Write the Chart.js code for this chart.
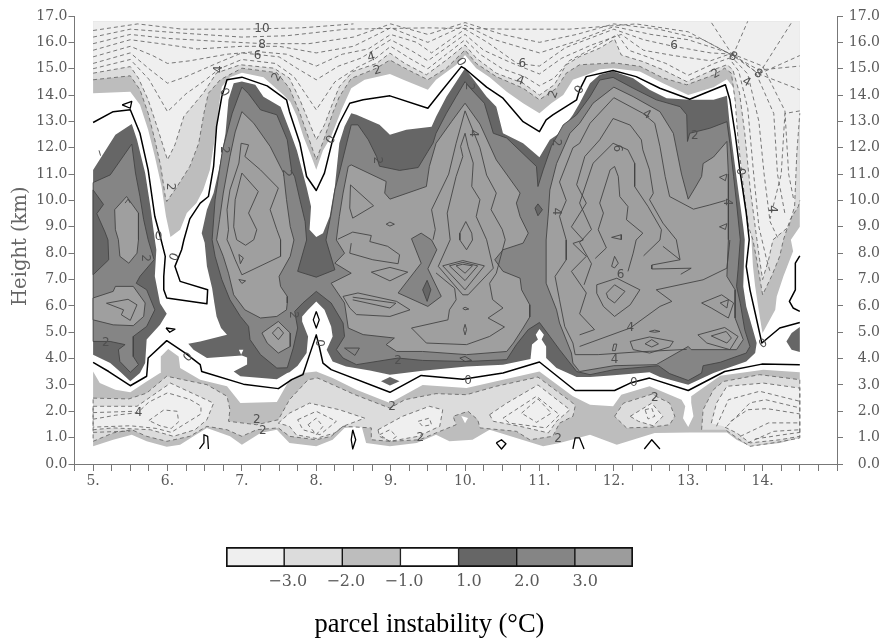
<!DOCTYPE html>
<html><head><meta charset="utf-8">
<script src="https://cdn.jsdelivr.net/npm/chart.js@4/dist/chart.umd.min.js"></script>
<style>html,body{margin:0;padding:0;background:#fff}#a{position:absolute;left:0;top:0}#b{position:absolute;left:200px;top:530px}</style>
</head><body>
<canvas id="a" width="880" height="638"></canvas>
<canvas id="b" width="460" height="108"></canvas>
<script>
// ---------- tick labels ----------
const xTickLabels=['5.','6.','7.','8.','9.','10.','11.','12.','13.','14.'];
const yTickValues=[0,1,2,3,4,5,6,7,8,9,10,11,12,13,14,15,16,17];
const legendLevels=['','\u22123.0','\u22122.0','\u22121.0','1.0','2.0','3.0',''];
const legendColors=['#efefef','#dcdcdc','#bdbdbd','#ffffff','#666666','#858585','#9c9c9c'];
// ---------- upper negative band contours (time, km) ----------
const up1=[[5,14.07],[5.5,14.13],[5.63,13.63],[5.74,12.68],[5.83,11.67],[5.92,10.53],[5.98,9.39],[6.04,8.61],[6.17,8.89],[6.26,9.52],[6.39,9.9],[6.48,10.4],[6.57,11.16],[6.64,12.43],[6.69,13.56],[6.73,14.32],[6.84,14.68],[7,14.85],[7.29,14.68],[7.56,14],[7.65,13.75],[7.74,13.2],[7.83,12.4],[7.93,11.7],[8,11.17],[8.09,11.9],[8.2,12.43],[8.34,13.44],[8.47,14.26],[8.65,14.58],[8.99,14.8],[9.17,14.58],[9.5,14.2],[9.61,14.58],[9.88,15.14],[10,15.52],[10.15,15.02],[10.33,14.68],[10.56,14.13],[10.78,13.69],[11,13.31],[11.16,13.69],[11.32,14],[11.45,14.58],[11.63,14.76],[11.81,14.98],[11.99,15.02],[12.35,14.89],[12.66,14.45],[13,14],[13.34,14.3],[13.52,14.6],[13.6,14.32],[13.65,13.44],[13.7,12.17],[13.76,10.53],[13.81,9.39],[13.85,8.51],[13.87,7.5],[13.9,6.74],[13.94,5.98],[13.99,5.09],[14,4.97],[14.17,5.85],[14.19,6.36],[14.28,7.12],[14.41,8.07],[14.38,8.51],[14.5,9]];
const up2=[[5,14.58],[5.5,14.73],[5.63,14.2],[5.74,13.31],[5.83,12.3],[5.91,11.29],[5.97,10.15],[5.99,9.96],[6.13,10.53],[6.3,11.29],[6.42,12.17],[6.49,13.31],[6.55,14.07],[6.71,14.58],[7,15.02],[7.47,14.85],[7.64,14.26],[7.78,13.31],[7.89,12.43],[8,11.54],[8.11,12.37],[8.22,13.31],[8.31,13.94],[8.47,14.63],[8.81,15.02],[8.99,15.33],[9.19,15.02],[9.5,14.58],[9.75,15.02],[10,15.71],[10.15,15.2],[10.42,14.7],[10.78,14.26],[11,13.82],[11.23,14.26],[11.36,14.83],[11.54,15.15],[12.01,15.22],[12.35,15.09],[12.66,14.65],[12.98,14.39],[13.34,14.76],[13.49,15.02],[13.58,14.83],[13.63,13.82],[13.67,12.3],[13.74,10.53],[13.81,9],[13.87,8.51],[13.92,7.75],[14,6.42],[14.12,7.12],[14.23,7.88],[14.28,8.51],[14.37,9.27],[14.48,9.77],[14.5,10]];
const up3=[[5,14.83],[5.5,15.08],[5.61,14.64],[5.74,13.82],[5.86,12.8],[6,11.54],[6.1,12.11],[6.22,13.19],[6.48,14.07],[6.66,14.84],[6.98,15.15],[7.43,15.02],[7.64,14.64],[7.78,13.82],[8,12.3],[8.11,12.87],[8.22,13.69],[8.31,14.32],[8.49,14.89],[8.81,15.2],[8.99,15.59],[9.19,15.2],[9.48,14.77],[9.75,15.33],[10,15.9],[10.15,15.4],[10.42,14.83],[10.78,14.45],[11,14],[11.2,14.39],[11.36,15.15],[11.54,15.46],[11.81,15.78],[12.01,16.12],[12.1,15.52],[12.39,15.27],[12.66,14.96],[12.98,14.51],[13.34,14.96],[13.52,15.15],[13.6,14.96],[13.69,14.07],[13.76,12.55],[13.83,10.53],[13.9,9],[13.96,7.75],[14,7],[14.08,7.75],[14.14,8.51],[14.35,9],[14.43,9.77],[14.46,11.8],[14.48,12.55],[14.5,13.31]];
const topCorners=[[14.5,16.8],[5,16.8]];
const up4=[[5,15],[5.5,15.35],[5.75,14.6],[6,13.37],[6.25,14.05],[6.5,14.55],[6.7,15],[7,15.35],[7.45,15.2],[7.7,14.7],[8,13.44],[8.25,14.5],[8.55,15.05],[8.8,15.4],[9,15.85],[9.25,15.4],[9.5,15],[9.75,15.55],[10,16.1],[10.2,15.55],[10.5,15],[10.8,14.7],[11,14.35],[11.2,14.65],[11.4,15.3],[11.7,15.75],[12.05,16.3],[12.2,15.7],[12.7,15.2],[13,14.75],[13.35,15.2],[13.55,15.4],[13.68,14.9],[13.8,13.5],[13.88,11],[13.95,9],[14.05,7.8],[14.1,7.3]];
const up5=[[5,15.2],[5.5,15.6],[5.75,15],[6,14.45],[6.25,14.7],[6.7,15.25],[7,15.6],[7.5,15.45],[7.75,15],[8,14.58],[8.3,15.1],[8.6,15.4],[9,16.1],[9.3,15.65],[9.5,15.3],[10,16.3],[10.25,15.7],[10.6,15.25],[11,14.8],[11.3,15.4],[11.7,15.9],[12.1,16.3],[12.4,15.7],[12.8,15.5],[13.3,15.3],[13.55,15.55],[13.8,14.8],[13.95,13],[14.02,11],[14.1,9.2],[14.2,8.6]];
const up6=[[5,15.45],[5.5,15.85],[5.8,15.5],[6,15.2],[6.3,15.3],[6.8,15.55],[7.2,15.65],[7.6,15.55],[8,15.1],[8.35,15.55],[8.7,15.75],[9,16.3],[9.35,16],[9.55,15.6],[10,16.5],[10.3,16],[10.7,15.2],[11,15.1],[11.35,15.8],[12,16.5],[12.4,16.1],[12.8,15.85],[13.3,15.6],[13.6,15.55],[13.9,14.9],[14.15,13.3],[14.2,11],[14.3,9.5]];
const up7=[[5,15.7],[5.5,16.1],[5.9,15.95],[6.4,15.75],[7,15.85],[7.5,15.85],[8,15.6],[8.5,15.85],[9,16.55],[9.5,16],[10,16.65],[10.4,16.1],[11,15.6],[11.5,16.05],[12,16.6],[12.5,16.3],[13,16.1],[13.6,15.55],[14,15.1],[14.3,13.4],[14.35,11],[14.42,10]];
const up8=[[5,15.95],[5.5,16.3],[6,16.15],[6.6,16.05],[7.3,15.95],[7.9,15.95],[8.5,16.2],[9,16.7],[9.5,16.3],[10,16.75],[10.5,16.3],[11,16],[11.5,16.3],[12,16.7],[12.6,16.5],[13.2,16.1],[13.6,15.5],[13.95,14.95],[14.5,15.1]];
const up9=[[5,16.2],[5.5,16.5],[6.2,16.35],[7,16.2],[7.6,16.25],[8.4,16.5],[9.5,16.55],[10.6,16.5],[11.4,16.5],[12.3,16.7],[13,16.4],[13.6,15.5],[13.95,14.8],[14.5,14.2]];
const up10=[[5,16.45],[5.6,16.7],[6.2,16.5],[7,16.5],[7.8,16.55],[8.5,16.7]];
const spokeA=[[13.6,15.5],[13.8,16.8]];
const spokeB=[[13.95,14.8],[14.4,16.8]];
const spokeC=[[13.95,14.8],[14.5,15.5]];
const spokeD=[[13.6,15.5],[13.3,16.8]];
const spokeE=[[14.5,13.4],[14.3,13.3],[14.25,11],[14.1,9.3]];
// ---------- lower negative band ----------
const low1=[[5,3.51],[5.09,3.07],[5.3,2.82],[5.5,2.72],[5.72,3.13],[5.9,3.45],[5.91,4.08],[6.01,4.36],[6.15,4.08],[6.17,3.64],[6.44,3.2],[6.8,2.95],[6.98,2.31],[7.47,2.35],[7.64,3.2],[7.82,3.45],[8,3.51],[8.22,3.26],[8.54,2.82],[8.99,2.31],[9.43,3],[10.02,2.88],[10.51,3.2],[11,3.51],[11.45,2.57],[11.68,2.25],[11.99,2.19],[12.1,2.63],[12.48,2.95],[12.91,2.44],[12.96,2.19],[12.93,1.74],[13,1.4],[13.07,1.81],[13.04,2.32],[13.04,2.57],[13.43,3.35],[14.01,3.58],[14.5,3.48],[14.5,0.99],[14.23,0.8],[13.83,0.67],[13.65,0.92],[13.52,1.2],[13.02,1.2],[12.55,1.18],[12.04,0.73],[11.86,0.92],[11.68,1.11],[11.27,0.8],[11.05,0.67],[10.69,0.99],[10.33,1.3],[10.1,0.92],[9.79,0.86],[9.61,1.11],[9.35,0.8],[8.99,0.67],[8.67,0.8],[8.61,1.43],[8.38,1.37],[8.22,0.92],[8,0.67],[7.64,0.8],[7.47,1.3],[7.25,1.18],[7,0.73],[6.84,1.05],[6.53,1.37],[6.35,1.05],[6.17,0.73],[5.99,0.65],[5.72,0.86],[5.52,1.11],[5.27,0.92],[5,0.67]];
const low2a=[[5,2.5],[5.48,2.47],[5.72,2.69],[5.99,3.33],[6.53,3.01],[6.8,2.57],[6.84,2.06],[6.82,1.62],[7.2,1.49],[7.49,1.68],[7.64,2.44],[7.89,3.2],[8.02,3.26],[8.22,3.01],[8.52,2.63],[8.99,2.12],[9.19,2.44],[9.61,2.67],[10.02,2.63],[10.42,2.95],[10.98,3.3],[11.45,2.31],[11.48,2.19],[11.45,1.81],[11.27,1.55],[11.18,1.05],[10.87,0.92],[10.69,1.24],[10.2,1.37],[10.17,1.68],[10.04,2],[9.84,1.81],[9.88,1.49],[9.61,1.18],[9.39,0.92],[8.99,0.86],[8.74,0.92],[8.74,1.37],[8.36,1.43],[8.2,1.05],[8,0.92],[7.64,1.05],[7.49,1.37],[7.2,1.3],[7,1.05],[6.8,1.3],[6.53,1.43],[6.3,1.05],[5.99,0.86],[5.72,1.05],[5.52,1.3],[5.27,1.18],[5,0.86]];
const low2b=[[12.01,1.81],[12.13,2.31],[12.51,2.65],[12.75,2.31],[12.82,1.81],[12.75,1.49],[12.51,1.4],[12.17,1.37]];
const low2c=[[13.18,1.3],[13.2,2.06],[13.34,2.82],[13.47,3.13],[13.96,3.39],[14.5,3.2],[14.5,0.99],[14.23,0.84],[13.83,0.67],[13.65,1],[13.5,1.3]];
const low3a=[[5,2.19],[5.59,2.19],[6.04,3.07],[6.62,2.31],[6.53,1.68],[6.37,1.3],[6.08,1.05],[5.77,1.3],[5.27,1.37],[5,1.3]];
const low3b=[[7.49,1.55],[7.64,1.93],[7.91,2.31],[8.31,2.06],[8.65,1.74],[8.36,1.43],[8.25,1.18],[8,0.97],[7.73,1.11],[7.64,1.43]];
const low3c=[[8.83,1.3],[9.16,1.81],[9.52,2.19],[9.7,2.06],[9.66,1.43],[9.37,1.05],[8.99,0.86],[8.85,1.05]];
const low3d=[[10.33,1.87],[10.56,2.31],[10.98,3],[11.41,2.06],[11.23,1.62],[11.12,1.18],[10.74,1.43],[10.38,1.62]];
const low3e=[[12.22,1.81],[12.51,2.31],[12.66,1.81],[12.53,1.45],[12.33,1.62]];
const low3f=[[13.31,1.55],[13.38,2.31],[13.52,2.95],[14.01,3.07],[14.5,2.88],[14.5,1.05],[14.23,0.92],[13.83,0.8],[13.65,1.18],[13.47,1.43]];
const whiteSpot=[[9.95,1.82],[10.04,1.75],[10,1.55]];
const whiteNotch=[[6.96,4.34],[7.02,4.34],[6.99,4.15]];
const lowLines=[
 [[5,1.7],[5.3,1.85],[5.6,1.95],[5.75,2.35],[6,2.7],[6.3,2.45],[6.45,2.2],[6.45,1.9],[6.25,1.55],[6.05,1.2],[5.85,1.35],[5.5,1.45],[5,1.4]],
 [[5.75,1.65],[5.95,2.05],[6.13,2],[6.15,1.6],[6.05,1.35],[5.9,1.45],[5.75,1.65]],
 [[7.75,1.68],[8,2],[8.27,1.62],[8.05,1.11],[7.82,1.3],[7.75,1.68]],
 [[7.89,1.49],[8,1.74],[8.09,1.43],[8,1.11],[7.89,1.49]],
 [[8.85,1.11],[8.99,1.3],[9.08,1.05],[8.99,0.86],[8.85,1.11]],
 [[9.37,1.62],[9.52,1.74],[9.55,1.49],[9.43,1.43],[9.37,1.62]],
 [[10.51,1.74],[10.96,2.57],[11.27,1.87],[11.09,1.37],[10.6,1.55],[10.51,1.74]],
 [[10.76,1.93],[10.98,2.47],[11.16,1.93],[10.96,1.58],[10.76,1.93]],
 [[12.42,2.06],[12.51,2.12],[12.55,1.81],[12.46,1.71],[12.42,2.06]],
 [[13.38,1.43],[13.54,2.44],[13.96,2.76],[14.5,2.38]],
 [[13.52,1.43],[13.83,2.32],[14.04,2.44],[14.5,2.13]],
 [[13.57,1.62],[13.8,2.06],[14.06,2.1],[14.5,1.9]],
 [[13.7,1.05],[14.08,1.56],[14.5,1.56]],
 [[13.8,0.8],[14.15,1.24],[14.5,1.3]],
 [[13.9,0.95],[14.25,1.1],[14.5,1.2]],
 [[5,1.95],[5.55,2]],[[5,1.2],[5.5,1.25]]
];
// ---------- positive regions ----------
const pos1a=[[5,11.16],[5.3,12.49],[5.52,12.9],[5.59,12.3],[5.7,11.04],[5.77,9.77],[5.83,8.51],[5.85,8.13],[5.83,7.12],[5.9,6.1],[5.99,5.7],[5.9,5.28],[5.72,4.72],[5.7,3.83],[5.63,3.45],[5.5,3.14],[5.36,3.51],[5.23,3.83],[5,4.15]];
const pos1b=[[6.5,8.4],[6.46,8.76],[6.53,9.65],[6.62,10.28],[6.69,11.16],[6.78,12.55],[6.82,13.82],[6.89,14.45],[7,14.51],[7.18,14.39],[7.29,13.94],[7.52,13.56],[7.65,12.6],[7.74,11.9],[7.87,10.5],[7.93,9.77],[7.91,8.89],[8,8.61],[8.09,8.76],[8.18,9.39],[8.25,10.53],[8.31,12.17],[8.38,12.81],[8.47,13.31],[8.54,13.25],[8.85,12.87],[8.99,12.49],[9.21,12.68],[9.55,12.8],[9.61,13.18],[9.75,13.94],[10,15.02],[10.29,13.94],[10.42,13.56],[10.51,12.55],[10.78,12.17],[11,11.64],[11.14,12.3],[11.27,12.55],[11.45,13.25],[11.54,13.69],[11.68,14.45],[11.81,14.77],[11.99,14.9],[12.26,14.64],[12.48,14.2],[12.71,13.88],[13.02,13.82],[13.34,13.82],[13.52,13.97],[13.56,12.81],[13.63,11.29],[13.69,10.03],[13.74,9],[13.76,8.51],[13.75,7.75],[13.74,6.74],[13.78,5.98],[13.87,5.09],[13.92,4.59],[13.9,4.21],[13.78,3.89],[13.34,3.45],[13,3.01],[12.62,3.3],[12.48,3.48],[12,3.37],[11.68,3.3],[11.5,3.3],[11.23,3.64],[11.09,4.02],[11.09,4.46],[11.03,4.72],[11.06,4.9],[11,5.12],[10.95,4.9],[10.98,4.72],[10.9,4.53],[10.88,3.98],[10.51,3.77],[10.02,3.7],[9.43,3.54],[8.99,3.39],[8.72,3.55],[8.4,3.7],[8.22,3.89],[8.14,4.34],[8.22,4.84],[8.2,5.22],[8.11,5.85],[8,6.17],[7.89,5.85],[7.81,5.6],[7.81,5.41],[7.89,4.84],[7.87,4.21],[7.75,3.73],[7.64,3.48],[7.61,3.45],[7.47,3.22],[6.98,3.33],[6.89,3.51],[7.07,3.78],[7.07,4.04],[7,4.12],[6.53,4.02],[6.35,4.34],[6.28,4.56],[6.44,4.65],[6.8,4.9],[6.72,5.16],[6.66,5.6],[6.63,6.11],[6.6,6.67],[6.53,7.5]];
const pos1c=[[14.5,5.2],[14.39,4.97],[14.32,4.65],[14.39,4.34],[14.5,4.25]];
const pos1d=[[8.87,3.14],[8.99,3.3],[9.12,3.14],[8.99,2.98]];
const pos1e=[[10.94,9.71],[10.98,9.87],[11.04,9.65],[10.98,9.42]];
const pos1f=[[5,10.4],[5.14,9.85],[5.05,9.5],[5.16,8.8],[5.2,8.5],[5.21,7.75],[5,7.18]];
const pos1g=[[9.49,6.97],[9.43,6.61],[9.49,6.17],[9.54,6.61]];
const pos2a=[[5,10.68],[5.23,10.97],[5.52,12.14],[5.57,11.04],[5.63,10.15],[5.68,9.27],[5.74,8.51],[5.82,7.75],[5.63,7.12],[5.58,6.86],[5.72,6.61],[5.83,5.85],[5.72,5.22],[5.54,4.84],[5.54,4.08],[5.61,3.77],[5.5,3.48],[5.36,3.89],[5.34,4.34],[5.43,4.53],[5.23,4.65],[5,4.65]];
const pos2b=[[6.6,8.51],[6.64,10.03],[6.74,11.92],[6.87,13.31],[6.96,14],[7,14.3],[7.09,14.05],[7.25,13.44],[7.47,13.25],[7.61,12.3],[7.67,11.1],[7.71,10.9],[7.78,10.03],[7.85,9.2],[7.87,8.5],[7.75,7.31],[8,7.09],[8.25,7.37],[8.13,8.5],[8.2,9.5],[8.25,10.4],[8.31,11.04],[8.47,12.87],[8.56,12.87],[8.7,12.3],[8.81,11.67],[8.85,11.3],[9.12,11.14],[9.37,11.25],[9.5,11.86],[9.57,12.18],[9.61,12.55],[9.75,13.31],[9.88,13.94],[10,14.51],[10.09,14.2],[10.26,13.69],[10.38,12.55],[10.56,12.37],[10.96,11.29],[10.98,10.53],[11.05,11.16],[11.16,12.05],[11.32,12.87],[11.5,13.25],[11.68,13.94],[11.81,14.57],[11.99,14.67],[12.26,14.26],[12.57,13.82],[12.89,13.56],[12.98,13.25],[12.99,12.24],[13.02,12.55],[13.29,12.74],[13.52,12.99],[13.56,12.17],[13.61,10.91],[13.65,9.9],[13.7,8.51],[13.67,7.37],[13.65,6.74],[13.7,6.1],[13.76,5.09],[13.83,4.46],[13.78,4.21],[13.43,3.86],[13.2,3.73],[13.18,3.45],[13,3.17],[12.75,3.43],[12.6,3.73],[12,3.58],[11.68,3.39],[11.5,3.51],[11.27,4.34],[11.14,4.84],[11,5.37],[10.85,5.1],[10.69,4.53],[10.56,3.96],[10.02,3.89],[9.43,3.93],[9.1,4.02],[8.54,3.77],[8.36,4.02],[8.27,4.34],[8.38,4.84],[8.36,5.35],[8.2,6.11],[8,6.55],[7.82,6.11],[7.71,5.79],[7.75,5.16],[7.69,4.4],[7.61,3.65],[7.47,3.64],[7.25,4.15],[7.11,4.72],[7.09,5.22],[6.98,5.6],[6.84,6.23],[6.73,7],[6.64,7.88]];
const pos3a=[[5.29,9.65],[5.45,10.15],[5.61,9.52],[5.61,8.51],[5.59,8],[5.48,7.62],[5.36,7.88],[5.34,8.51],[5.3,8.89]];
const pos3b=[[5,6.3],[5.27,6.55],[5.3,6.74],[5.54,6.74],[5.7,6.11],[5.68,5.6],[5.54,5.25],[5.27,5.28],[5,5.47]];
const pos3c=[[7,13.37],[7.16,12.93],[7.38,12.05],[7.56,11.04],[7.6,10.03],[7.65,9.01],[7.7,8.5],[7.65,7.88],[7.5,7.12],[7.52,6.74],[7.61,6.36],[7.61,6.11],[7.6,5.85],[7.47,5.6],[7.25,5.54],[7.04,5.85],[6.89,6.42],[6.82,7.24],[6.75,7.88],[6.66,8.51],[6.7,9.27],[6.75,10.28],[6.84,11.67],[6.91,12.6]];
const pos3d=[[7.27,4.97],[7.49,5.41],[7.65,4.97],[7.65,4.46],[7.49,4.21],[7.34,4.59]];
const pos3e=[[8.47,11.35],[8.94,10.72],[8.92,10.28],[8.99,10.05],[9.48,10.53],[9.52,11.29],[9.61,12.17],[9.82,13],[10,13.69],[10.2,12.9],[10.42,11.54],[10.74,10.28],[10.69,9.9],[10.74,9.39],[10.85,8.76],[10.78,8.38],[10.51,8.13],[10.4,7.75],[10.51,7.31],[10.74,7.05],[10.76,6.61],[10.87,6.04],[10.87,5.58],[10.78,5.16],[10.65,4.59],[10.56,4.27],[10.02,4.15],[9.43,4.27],[9.08,4.27],[8.94,4.53],[9.05,4.78],[8.63,4.91],[8.43,5.16],[8.38,6.11],[8.2,6.86],[8.47,7.24],[8.25,7.62],[8.38,8],[8.27,8.5],[8.31,9.39],[8.36,10.28],[8.43,11.29]];
const pos3f=[[11.09,8.5],[11.12,9.52],[11.14,10.4],[11.23,11.4],[11.41,12.55],[11.54,12.93],[11.72,13.69],[12,14.3],[12.26,13.94],[12.62,13.37],[12.8,12.55],[12.91,11],[13,10.05],[13.09,10.47],[13.18,10.91],[13.2,11.4],[13.34,11.65],[13.52,12.24],[13.54,11],[13.54,10.03],[13.54,8.51],[13.52,7.12],[13.63,6.61],[13.63,5.54],[13.74,4.72],[13.65,4.34],[13.04,4.34],[13,4.46],[12.57,3.77],[12,3.73],[11.54,3.51],[11.45,3.83],[11.43,4.21],[11.27,5.35],[11.23,5.85],[11.09,6.86]];
const patch858=[[9.28,8.55],[9.41,8.76],[9.55,8.5],[9.62,8.13],[9.5,7.41],[9.68,6.36],[9.5,5.98],[9.1,6.49],[9.41,7.62]];
// ---------- solid positive contours ----------
const solidLines=[
 [[6.8,8.51],[6.82,8.89],[6.8,9.65],[6.84,10.4],[6.96,11.42],[6.99,12.17],[7.09,12.11],[7.04,11.67],[7.25,11.16],[7.49,10.47],[7.38,9.65],[7.47,8.89],[7.52,8.51],[7.52,7.88],[7,7.18],[6.91,7.75],[6.84,8.26],[6.8,8.51]],
 [[6.93,8.51],[6.89,9],[6.91,10.03],[7,11.04],[7.22,10.34],[7.09,9.52],[7.2,8.89],[7.16,8.51],[7.05,8.3],[6.93,8.51]],
 [[6.96,7.95],[7.02,7.82],[6.98,7.6],[6.96,7.95]],[[6.96,7],[7.05,6.95],[7,6.85],[6.96,7]],
 [[7.41,4.97],[7.49,5.2],[7.56,4.97],[7.49,4.72],[7.41,4.97]],
 [[5.18,6.1],[5.47,6.25],[5.59,6.04],[5.5,5.45],[5.38,5.66],[5.41,5.85],[5.18,6.1]],
 [[9.57,8.51],[9.6,8.9],[9.55,9.65],[9.78,11],[9.88,12.17],[10,13.4],[10.2,12],[10.29,10.96],[10.42,10.28],[10.35,9.65],[10.5,8.9],[10.54,8.51],[10.42,7.24],[10.33,6.86],[10.37,6.24],[10.51,5.92],[10.31,5.54],[10.53,5.2],[10.33,4.84],[10.02,4.53],[9.48,4.59],[9.28,5.16],[9.77,5.47],[9.79,5.85],[9.88,6.23],[9.86,6.67],[9.61,7.25]],
 [[9.8,8.51],[9.76,9.52],[9.88,10.91],[9.97,11.67],[9.94,12.05],[10,12.55],[10.04,12.05],[10.11,11.42],[10.09,10.53],[10.2,10.03],[10.15,9.39],[10.29,8.51],[10.38,7.43],[10.04,6.42],[9.97,6.42],[9.64,7.5],[9.8,8.51]],
 [[9.7,7.52],[10,6.61],[10.26,7.52],[9.97,7.72],[9.7,7.52]],
 [[9.79,7.52],[10,6.96],[10.17,7.52],[9.97,7.65],[9.79,7.52]],
 [[9.88,7.52],[10,7.24],[10.1,7.52],[9.97,7.58],[9.88,7.52]],
 [[9.93,8.5],[10.02,8.13],[10.1,8.5],[10.09,8.76],[10.01,9.2],[9.93,8.76],[9.93,8.5]],
 [[8.46,10.59],[8.45,9.71],[8.49,9.33],[8.77,9.8],[8.46,10.59]],
 [[8.94,9.1],[8.99,9.18],[9.05,9.1],[8.99,9.03],[8.94,9.1]],
 [[8.29,8.53],[8.49,8.8],[8.74,8.67],[8.72,8.44],[8.96,8.26],[9.12,7.94],[9.1,7.6],[8.76,7.75],[8.45,8],[8.47,8.38]],
 [[8.74,7.28],[8.99,7.46],[9.23,7.28],[8.99,6.95],[8.74,7.28]],
 [[8.36,6.36],[8.56,6.49],[9.08,6.17],[9.26,5.85],[8.99,5.6],[8.54,5.67],[8.45,5.92],[8.36,6.36]],
 [[8.49,6.33],[9.07,6.1],[8.99,5.92],[8.49,6.23]],
 [[8.38,4.4],[8.58,4.4],[8.52,4.12],[8.38,4.4]],
 [[9.93,4.02],[10,4.08],[10.09,3.93],[10,3.89],[9.93,4.02]],
 [[9.97,5.9],[10,5.95],[10.05,5.88],[10,5.85],[9.97,5.9]],
 [[9.98,5.1],[10,5.3],[10.02,5.1],[10,4.9],[9.98,5.1]],
 [[13.5,10],[13.29,9.83],[13.07,9.67],[12.75,10.15],[12.69,10.91],[12.62,12.05],[12.55,12.93],[12.39,13.31],[12,13.9],[11.68,12.93],[11.54,12.17],[11.45,12],[11.27,10.7],[11.36,10],[11.27,9.4],[11.36,8.5],[11.36,7.75],[11.21,7.12],[11.27,6.23],[11.34,5.22],[11.45,4.59],[11.48,4.15],[11.79,4.15],[12.3,4.25],[12.98,4.35]],
 [[11.99,13.11],[12.22,12.86],[12.37,12.3],[12.39,11.92],[12.48,11.16],[12.53,10.27],[12.48,10.03],[12.66,9.14],[12.84,8.51],[12.89,7.75]],
 [[11.99,13.11],[11.81,12.3],[11.61,11.67],[11.5,10.6],[11.63,9.9],[11.43,9],[11.59,8.5],[11.45,8.37],[11.63,7.88],[11.43,7.31],[11.63,6.49],[11.54,5.7],[11.74,5.1],[11.54,4.9]],
 [[11.99,12.17],[12.19,11.92],[12.28,11.41],[12.28,10.53],[12.46,9.77],[12.64,8.89],[12.62,8.5],[12.4,7.9]],
 [[11.99,12.17],[11.72,11.41],[11.54,9.9],[11.7,8.9],[11.54,8.4],[11.7,7.6],[11.6,6.8]],
 [[11.81,9.9],[11.95,11.16],[12.01,11.29],[12.06,10.91],[12.08,10.15],[12.19,9.77],[12.17,9.27],[12.39,8.76],[12.3,8.5],[12.26,8],[12.19,7.31]],
 [[11.81,9.9],[11.86,9.52],[11.79,8.89],[11.9,8.2],[11.75,7.8]],
 [[11.77,6.8],[12.04,7.05],[12.35,6.61],[12.22,6.04],[12.01,5.6],[11.86,5.98],[11.77,6.48],[11.77,6.8]],
 [[11.9,6.48],[12.01,6.8],[12.15,6.55],[12.01,6.11],[11.92,6.3],[11.9,6.48]],
 [[11.97,7.5],[12.01,7.88],[12.06,7.62],[12.01,7.44],[11.97,7.5]],
 [[13.18,6.11],[13.45,6.42],[13.61,6.11],[13.54,5.54],[13.31,5.92],[13.18,6.11]],
 [[13.43,6.11],[13.54,6.23],[13.52,5.92],[13.43,6.11]],
 [[13.13,4.9],[13.49,5.18],[13.67,4.84],[13.56,4.34],[13.25,4.59],[13.13,4.9]],
 [[13.31,4.86],[13.51,5.03],[13.58,4.78],[13.52,4.59],[13.31,4.86]],
 [[12.22,4.65],[12.48,4.82],[12.8,4.65],[12.75,4.44],[12.48,4.21],[12.26,4.34],[12.22,4.65]],
 [[12.42,4.56],[12.51,4.72],[12.6,4.56],[12.51,4.44],[12.42,4.56]],
 [[11.54,4.46],[12.22,5.16],[12.62,5.98],[12.78,6.17],[12.57,6.61],[13.2,6.99],[13.52,7.43],[13.56,8.5]],
 [[12.66,8.26],[12.89,7.75],[12.51,7.55],[12.51,7.4],[13.04,7.43],[12.9,7.2]],
 [[12.48,5.03],[12.55,5.08],[12.62,5.03],[12.55,5],[12.48,5.03]],
 [[11.98,4.3],[12,4.55],[12.04,4.55],[12.02,4.3],[11.98,4.3]],
 [[13.42,10.88],[13.52,11],[13.5,10.75],[13.42,10.88]],
 [[13.42,9.0],[13.52,9.12],[13.5,8.9],[13.42,9.0]],
 [[11.97,8.6],[12.1,8.7],[12.1,8.52],[11.97,8.6]],
 [[5.43,9.9],[5.47,10.05],[5.5,9.9]],
 [[5.08,11.9],[5.1,11.7]]
];
// ---------- zero contours ----------
const zeroLow=[[5,3.86],[5.21,3.51],[5.5,2.97],[5.72,3.33],[5.74,4.02],[5.99,4.68],[6.24,4.21],[6.44,3.77],[6.46,3.51],[7.02,3.03],[7.49,2.86],[7.67,3.2],[7.82,3.39],[7.91,4.15],[8,4.9],[8.04,4.46],[8.09,3.83],[8.2,3.58],[8.99,2.72],[9.41,3.36],[9.97,3.22],[10.51,3.45],[11,3.87],[11.48,2.79],[12.01,2.79],[12.22,3.07],[12.48,3.26],[13,2.79],[13.49,3.51],[13.99,3.79],[14.5,3.77]];
const zeroUp=[[5,12.96],[5.27,13.37],[5.5,13.44],[5.63,12.55],[5.74,11.16],[5.83,9.39],[5.9,8.66],[5.97,7.88],[5.95,7.12],[5.95,6.61],[5.99,6.3],[6.53,6.08],[6.54,6.61],[6.17,6.93],[6.1,7.5],[6.19,8.13],[6.22,8.5],[6.3,9.3],[6.44,9.9],[6.55,10.15],[6.62,11.29],[6.66,12.81],[6.73,13.94],[6.8,14.58],[7,14.68],[7.34,14.35],[7.6,13.82],[7.64,13.37],[7.78,12.17],[7.87,10.91],[8,10.38],[8.11,11.04],[8.22,12.3],[8.31,12.93],[8.45,13.69],[8.63,13.82],[8.99,13.97],[9.5,13.5],[9.66,14.07],[9.95,15.08],[10,15],[10.29,14.3],[10.51,13.88],[10.78,12.99],[11,12.61],[11.09,13.06],[11.18,13.25],[11.5,13.82],[11.54,14.2],[11.63,14.7],[11.99,14.93],[12.3,14.7],[12.62,14.26],[13.02,13.84],[13.5,14.39],[13.56,13.82],[13.63,12.55],[13.7,11.04],[13.78,9.52],[13.82,8.51],[13.78,7.5],[13.83,6.61],[13.9,5.73],[13.99,4.59],[14.23,5.16],[14.5,5.37]];
const zeroRight=[[14.5,7.9],[14.44,7.62],[14.44,6.61],[14.36,6.17],[14.41,5.92],[14.5,5.79]];
const zeroBits=[
 [[5.98,5.16],[6.1,5.12],[6.03,5],[5.98,5.16]],
 [[5.39,13.63],[5.52,13.76],[5.5,13.5],[5.39,13.63]],
 [[8,5.79],[8.04,5.47],[8,5.16],[7.96,5.47],[8,5.79]],
 [[8.49,1.3],[8.53,0.92],[8.49,0.57],[8.47,0.92],[8.49,1.3]],
 [[10.42,0.8],[10.49,0.92],[10.55,0.77],[10.49,0.57],[10.42,0.8]],
 [[11.45,0.57],[11.48,0.99],[11.54,0.99],[11.6,0.57]],
 [[6.43,0.57],[6.49,0.8],[6.49,1.11],[6.54,1.05],[6.55,0.57]],
 [[12.41,0.57],[12.51,0.92],[12.62,0.57]]
];
// ---------- contour labels: text, x, y, rotation in degrees ----------
const contourLabels=[['10',7.27,16.53,0],['8',7.27,15.9,0],['6',7.21,15.49,0],['4',6.69,14.98,-90],['2',6.04,10.53,90],['0',6.76,14.1,60],['2',6.76,11.92,90],['2',7.6,11.04,90],['2',7.47,14.68,-60],['0',5.88,8.6,0],
['4',8.74,15.43,-15],['2',8.82,14.93,-15],['0',8.2,12.3,-60],['0',9.94,15.25,60],['2',10.06,14.32,90],['4',10.11,12.55,90],['6',10.77,15.17,0],['4',10.74,14.54,20],['2',11.19,14.03,-70],['0',11.54,14.2,-60],['2',11.23,12.2,90],['4',11.22,9.58,90],['2',8.82,11.52,90],
['6',12.81,15.88,0],['2',13.37,14.8,-30],['4',12.44,13.25,30],['2',13.09,12.45,0],['6',12.04,11.98,90],['0',13.7,11.1,90],['4',13.52,9.94,90],['4',14.13,9.67,90],['8',13.94,14.8,30],['4',13.78,14.49,30],['8',13.6,15.46,30],
['0',6.1,7.85,-70],['2',5.7,7.81,90],['2',5.17,4.61,0],['0',6.28,4.05,-45],['4',5.61,1.93,0],['2',7.2,1.66,0],['2',7.28,1.24,0],['2',7.69,5.66,90],
['2',9.1,3.93,0],['0',10.04,3.17,0],['2',9.02,2.15,0],['2',9.4,0.99,0],['2',11.25,0.96,0],['0',8.04,4.59,90],
['0',12.27,3.07,0],['4',12.01,3.96,0],['4',12.22,5.18,0],['6',12.09,7.18,0],['2',12.55,2.5,0],['0',14.01,4.56,-30]];

// ---------- build datasets (first entry painted first) ----------
const pts=a=>a.map(p=>({x:p[0],y:p[1]}));
const closed=a=>a.concat([a[0]]);
const C={n3:'#efefef',n2:'#dcdcdc',n1:'#bdbdbd',w:'#ffffff',p1:'#666666',p2:'#858585',p3:'#9f9f9f'};
const area=(a,c,lw)=>({data:pts(closed(a)),showLine:true,fill:'shape',backgroundColor:c,borderColor:'#444444',borderWidth:lw||0,pointRadius:0,tension:0,borderJoinStyle:'round'});
const stroke=(a,c,lw,d)=>({data:pts(a),showLine:true,fill:false,borderColor:c,borderWidth:lw,borderDash:d||[],pointRadius:0,tension:0,borderJoinStyle:'round'});
const DASH=[4,3], DC='#6a6a6a';
const layers=[
 area(up1.concat(topCorners),C.n1),area(up2.concat(topCorners),C.n2),area(up3.concat(topCorners),C.n3),
 area(low1,C.n1),area(low2a,C.n2),area(low2b,C.n2),area(low2c,C.n2),
 area(low3a,C.n3),area(low3b,C.n3),area(low3c,C.n3),area(low3d,C.n3),area(low3e,C.n3),area(low3f,C.n3),area(whiteSpot,C.w),
 area(pos1a,C.p1),area(pos1b,C.p1),area(pos1c,C.p1),area(pos1d,C.p1),area(whiteNotch,C.w),
 area(pos2a,C.p2,0.9),area(pos2b,C.p2,0.9),
 area(pos1e,C.p1,0.9),area(pos1f,C.p1,0.9),
 area(pos3a,C.p3,0.9),area(pos3b,C.p3,0.9),area(pos3c,C.p3,0.9),area(pos3d,C.p3,0.9),area(pos3e,C.p3,0.9),area(pos3f,C.p3,0.9),
 area(patch858,C.p2,0.9),area(pos1g,C.p1,0.9),
 stroke(up2,DC,0.9,DASH),stroke(up3,DC,0.9,DASH),stroke(up4,DC,0.9,DASH),stroke(up5,DC,0.9,DASH),stroke(up6,DC,0.9,DASH),stroke(up7,DC,0.9,DASH),stroke(up8,DC,0.9,DASH),stroke(up9,DC,0.9,DASH),stroke(up10,DC,0.9,DASH),
 stroke(spokeA,DC,0.9,DASH),stroke(spokeB,DC,0.9,DASH),stroke(spokeC,DC,0.9,DASH),stroke(spokeD,DC,0.9,DASH),stroke(spokeE,DC,0.9,DASH),
 stroke(closed(low2a),DC,0.9,DASH),stroke(closed(low2b),DC,0.9,DASH),stroke(low2c,DC,0.9,DASH),
 stroke(closed(low3a),DC,0.9,DASH),stroke(closed(low3b),DC,0.9,DASH),stroke(closed(low3c),DC,0.9,DASH),stroke(closed(low3d),DC,0.9,DASH),stroke(closed(low3e),DC,0.9,DASH),stroke(low3f,DC,0.9,DASH)
].concat(lowLines.map(l=>stroke(l,DC,0.9,DASH)),solidLines.map(l=>stroke(l,'#444444',0.9)),
 [stroke(zeroLow,'#000',1.5),stroke(zeroUp,'#000',1.5),stroke(zeroRight,'#000',1.5)],zeroBits.map(l=>stroke(l,'#000',1.3)));
layers.forEach((d,i)=>{d.order=layers.length-i;});

const labelPlugin={id:'contourLabels',afterDatasetsDraw(ch){
 const g=ch.ctx,X=ch.scales.x,Y=ch.scales.y;
 g.save();g.font='12px "DejaVu Sans"';g.fillStyle='#505050';g.textAlign='center';g.textBaseline='middle';
 contourLabels.forEach(l=>{g.save();g.translate(X.getPixelForValue(l[1]),Y.getPixelForValue(l[2]));g.rotate(l[3]*Math.PI/180);g.fillText(l[0],0,0);g.restore();});
 g.restore();}};

const AXC='#777777',TXT='#5a5a5a',TF={family:'"DejaVu Serif"',size:14};
const yAxis=(pos,w,extra)=>Object.assign({type:'linear',position:pos,min:0,max:17,afterBuildTicks(s){s.ticks=yTickValues.map(v=>({value:v}));},
 ticks:{color:TXT,font:TF,padding:1,autoSkip:false,callback:v=>v.toFixed(1),maxRotation:0},
 grid:{drawOnChartArea:false,tickLength:6,color:AXC,lineWidth:1},border:{display:true,color:AXC,width:1},afterFit(s){s.width=w;}},extra||{});
new Chart(document.getElementById('a'),{type:'scatter',data:{datasets:layers},plugins:[labelPlugin],options:{
 responsive:false,animation:false,layout:{padding:{top:16,left:0,right:0,bottom:0,}},
 plugins:{legend:{display:false},tooltip:{enabled:false},title:{display:false}},
 scales:{
  x:{type:'linear',position:'bottom',min:4.75,max:15,
   ticks:{stepSize:0.25,autoSkip:false,maxRotation:0,color:TXT,font:TF,padding:2,callback(v){return Number.isInteger(v)&&v>=5&&v<=14?xTickLabels[v-5]:'';}},
   grid:{drawOnChartArea:false,tickLength:7,color:AXC},border:{display:true,color:AXC,width:1},afterFit(s){s.height=174;}},
  y:yAxis('left',74.5,{title:{display:true,text:'Height (km)\u00a0\u00a0',color:'#666666',font:{family:'"DejaVu Serif"',size:19.5},padding:{top:9,bottom:0}}}),
  y2:yAxis('right',43,{ticks:{color:TXT,font:TF,padding:1,crossAlign:'far',autoSkip:false,callback:v=>v.toFixed(1),maxRotation:0}})
 }}});

new Chart(document.getElementById('b'),{type:'bar',
 data:{labels:[''],datasets:legendColors.map((c,i)=>({data:[1],backgroundColor:c,borderColor:'#111',borderSkipped:false,
  borderWidth:{top:2,bottom:2,left:i==0?2:1,right:i==6?2:1},barPercentage:1,categoryPercentage:1}))},
 options:{indexAxis:'y',responsive:false,animation:false,layout:{padding:{top:17,left:26,right:27,bottom:0}},
  plugins:{legend:{display:false},tooltip:{enabled:false}},
  scales:{
   y:{stacked:true,display:false},
   x:{stacked:true,min:0,max:7,afterBuildTicks(s){s.ticks=legendLevels.map((t,i)=>({value:i}));},
    ticks:{autoSkip:false,maxRotation:0,align:'end',labelOffset:23,padding:5,color:TXT,font:{family:'"DejaVu Serif"',size:16},callback(v){return legendLevels[v];}},
    grid:{display:false,drawTicks:false,tickLength:0},border:{display:false},afterFit(s){s.height=71;},
    title:{display:true,text:'parcel instability (\u00b0C)',color:'#000',font:{family:'"Liberation Serif"',size:26.5,lineHeight:1},padding:{top:0,bottom:0}}}
  }}});
</script>
</body></html>
